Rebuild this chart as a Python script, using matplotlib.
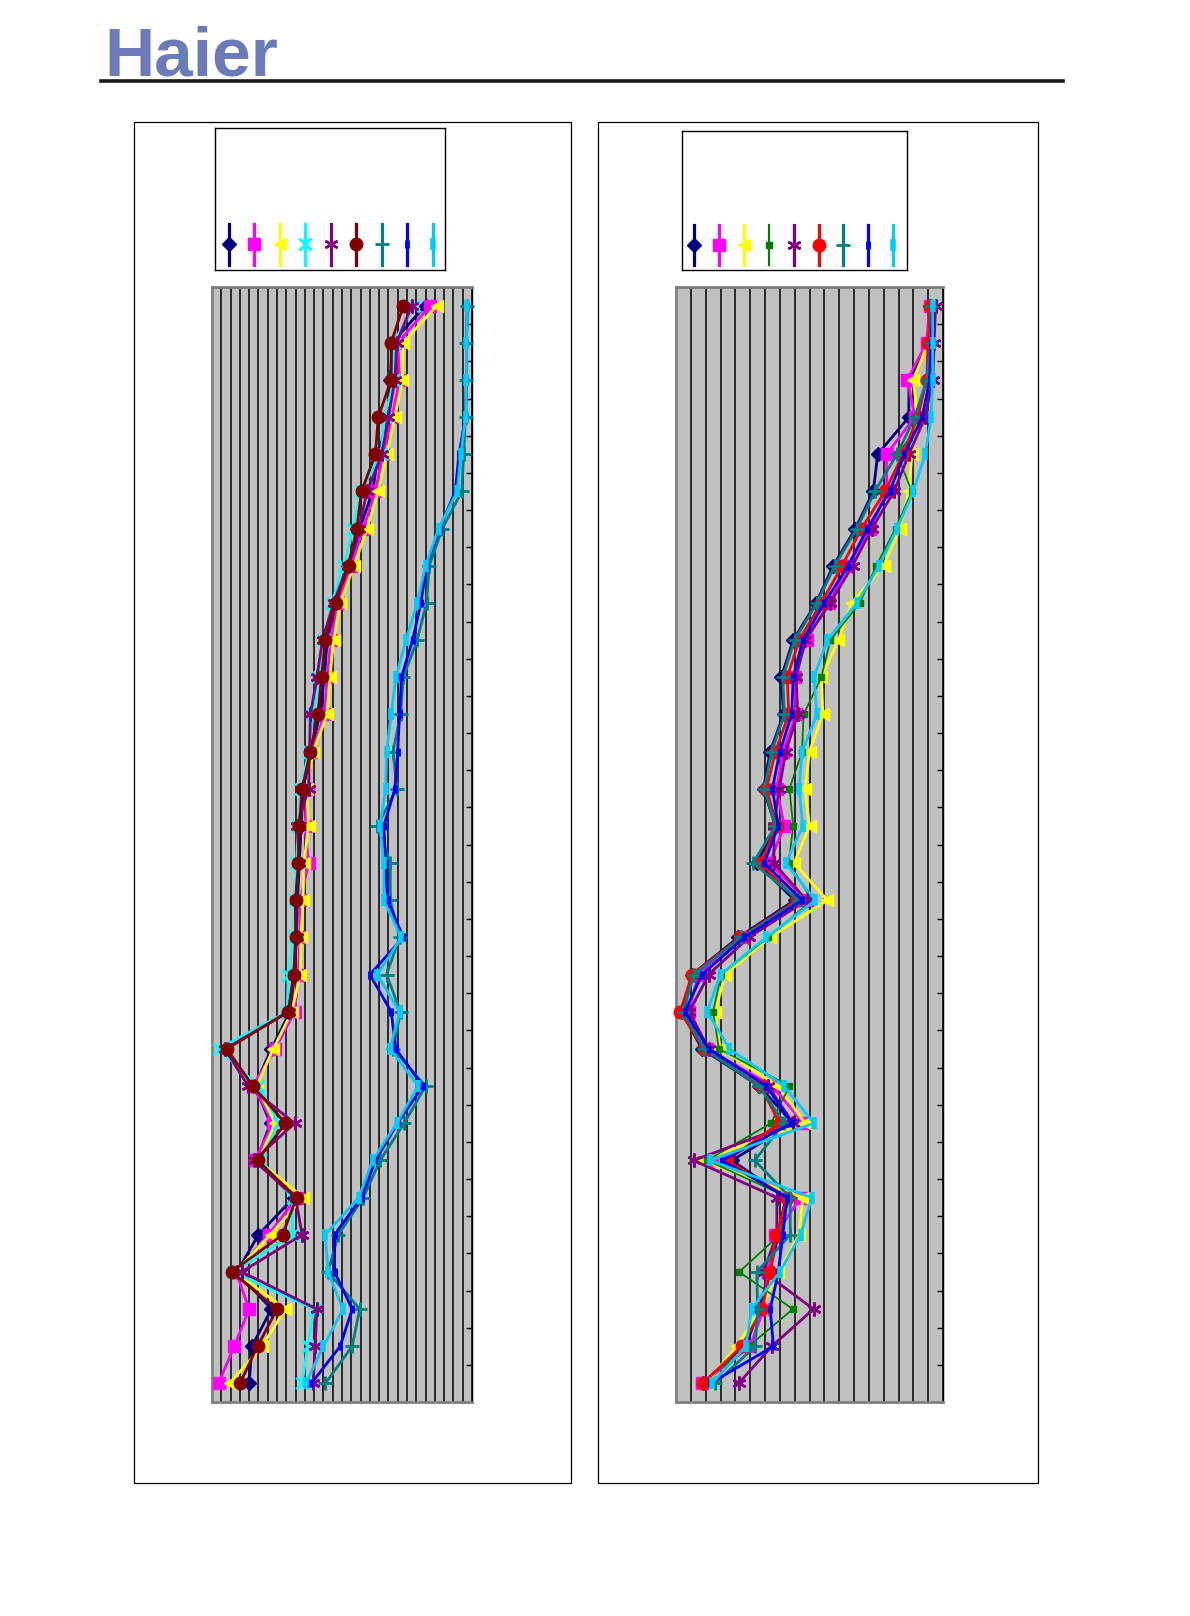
import numpy as np
import matplotlib
matplotlib.use("Agg")
import matplotlib.pyplot as plt
from matplotlib.lines import Line2D
from matplotlib.patches import Rectangle

W, H = 1190, 1616

# 30 rows per panel, listed top to bottom
categories = np.arange(30)

# ---- left panel -------------------------------------------------------
left_navy = [23.0, 19.4, 19.2, 19.0, 17.9, 17.3, 15.9, 14.9, 13.4, 12.4,
             12.1, 11.6, 10.7, 9.8, 9.6, 9.4, 9.2, 9.1, 8.9, 8.4,
             6.4, 4.6, 6.3, 4.8, 8.8, 5.0, 2.7, 6.4, 4.3, 4.0]
left_magenta = [23.5, 20.0, 20.2, 19.4, 18.4, 17.6, 16.3, 15.0, 13.6, 12.8,
                12.4, 12.1, 10.8, 10.3, 10.0, 10.4, 9.5, 9.5, 9.3, 8.9,
                6.8, 4.4, 6.6, 4.6, 9.1, 6.1, 2.6, 4.0, 2.4, 0.7]
left_yellow = [24.2, 20.6, 20.5, 19.7, 18.8, 17.9, 16.7, 15.3, 13.8, 13.1,
               12.7, 12.4, 10.9, 10.2, 10.4, 9.9, 9.8, 9.6, 9.5, 8.6,
               6.6, 4.8, 6.8, 5.0, 9.8, 6.3, 2.5, 7.9, 5.4, 1.9]
left_cyan = [21.7, 19.6, 19.6, 18.6, 18.2, 16.0, 15.2, 14.2, 12.9, 12.1,
             11.5, 10.9, 10.4, 9.6, 9.3, 9.1, 8.9, 8.8, 8.2, 8.1,
             0.7, 5.0, 7.2, 5.2, 8.7, 8.6, 2.3, 11.0, 10.3, 9.7]
left_purple = [21.5, 19.9, 19.7, 19.0, 18.3, 16.7, 15.8, 14.6, 13.1, 11.9,
               11.3, 10.6, 10.5, 10.4, 9.2, 9.4, 9.0, 9.1, 8.8, 8.3,
               1.4, 3.9, 8.9, 4.5, 9.0, 9.7, 3.2, 11.3, 11.1, 10.9]
left_maroon = [20.6, 19.3, 19.3, 17.9, 17.6, 16.1, 15.6, 14.7, 13.3, 12.2,
               11.8, 11.4, 10.6, 9.7, 9.4, 9.3, 9.0, 9.0, 8.8, 8.2,
               1.6, 4.4, 7.9, 4.9, 9.1, 7.6, 2.1, 7.0, 4.9, 3.0]
left_teal = [27.5, 27.4, 27.4, 27.3, 27.1, 26.9, 24.8, 23.4, 23.1, 22.1,
             20.6, 20.3, 19.5, 19.9, 17.8, 19.2, 19.2, 20.2, 18.8, 20.3,
             19.5, 23.0, 20.7, 18.1, 16.3, 13.6, 12.5, 15.9, 15.1, 12.2]
left_blue = [27.5, 27.4, 27.4, 27.3, 26.6, 26.2, 24.5, 23.1, 22.5, 21.6,
             20.4, 20.2, 20.0, 19.7, 18.5, 18.7, 18.9, 20.6, 17.0, 19.3,
             19.8, 22.7, 20.0, 17.6, 16.1, 13.2, 13.2, 15.1, 13.8, 10.7]
left_skyblue = [27.5, 27.4, 27.4, 27.3, 26.8, 26.4, 24.4, 23.0, 22.1, 20.9,
                19.8, 19.3, 18.8, 18.7, 18.1, 18.5, 18.5, 20.4, 17.8, 20.2,
                19.2, 22.2, 19.9, 17.3, 15.8, 12.2, 12.5, 14.1, 12.0, 10.1]

# ---- right panel ------------------------------------------------------
right_navy = [17.1, 17.1, 15.7, 15.7, 13.6, 13.3, 12.1, 10.6, 9.45, 7.9,
              7.1, 7.25, 6.35, 5.9, 6.7, 5.45, 8.0, 4.2, 1.08, 0.4,
              1.75, 5.6, 7.9, 3.77, 7.4, 6.9, 6.3, 5.6, 4.7, 1.8]
right_magenta = [17.1, 16.9, 15.6, 16.1, 14.2, 14.2, 13.1, 11.6, 10.3, 8.8,
                 8.0, 8.1, 7.2, 6.8, 7.3, 6.3, 8.8, 4.6, 1.5, 0.85,
                 2.1, 6.5, 8.6, 2.4, 8.4, 6.7, 6.2, 5.9, 5.0, 1.75]
right_yellow = [17.2, 17.0, 16.0, 16.3, 15.9, 15.7, 15.1, 14.0, 11.85, 10.95,
                9.8, 9.9, 9.0, 8.7, 9.0, 7.97, 10.2, 6.35, 3.3, 2.65,
                2.98, 6.9, 8.7, 1.75, 8.55, 8.3, 6.9, 5.7, 4.1, 2.0]
right_green = [17.2, 17.2, 17.0, 16.9, 14.9, 15.9, 14.8, 13.5, 12.4, 10.4,
               9.8, 8.6, 8.5, 7.65, 7.9, 7.6, 9.2, 6.2, 3.05, 2.5,
               2.9, 7.65, 6.4, 2.1, 7.6, 7.0, 4.26, 7.88, 4.9, 1.68]
right_purple = [17.5, 17.4, 17.3, 16.8, 15.7, 14.7, 13.2, 11.9, 10.4, 8.7,
                8.1, 8.2, 7.4, 6.96, 6.6, 6.6, 8.8, 4.9, 2.2, 0.9,
                2.2, 6.2, 7.9, 1.19, 6.8, 6.8, 5.9, 9.27, 6.46, 4.22]
right_red = [17.1, 17.0, 16.9, 16.3, 15.3, 14.1, 12.5, 11.2, 9.8, 8.3,
             7.5, 7.6, 6.7, 6.1, 6.8, 5.7, 8.15, 4.33, 1.08, 0.29,
             1.86, 5.7, 6.98, 3.43, 7.5, 6.75, 6.35, 5.8, 4.44, 1.8]
right_teal = [17.2, 17.2, 16.9, 16.1, 14.9, 13.4, 12.2, 10.7, 9.5, 8.0,
              7.2, 7.3, 6.45, 5.95, 6.7, 5.2, 8.3, 4.4, 1.2, 0.5,
              1.9, 5.6, 7.3, 5.3, 7.7, 7.7, 5.45, 5.5, 5.34, 2.65]
right_blue = [17.3, 17.2, 17.1, 16.6, 15.4, 14.4, 12.9, 11.6, 10.0, 8.55,
              7.9, 7.8, 7.0, 6.5, 6.9, 5.95, 8.5, 4.6, 1.75, 0.6,
              2.2, 6.1, 7.8, 3.1, 7.5, 7.2, 6.9, 6.35, 6.57, 2.3]
right_skyblue = [17.3, 17.3, 17.3, 17.2, 16.8, 16.0, 14.9, 13.7, 12.2, 10.2,
                 9.3, 9.5, 8.5, 8.3, 8.55, 7.4, 9.4, 6.1, 3.0, 2.1,
                 3.6, 7.3, 9.3, 2.3, 9.16, 8.4, 7.0, 5.1, 4.7, 2.42]

# value-axis extents (one gridline per unit)
LEFT_MAX = 28
RIGHT_MAX = 18

# style per series: colour, marker, marker size, marker edge width, line width
STAR = (6, 2, 0)
left_series = [
    (left_navy, "#000080", "D", 7, 1, 2),
    (left_magenta, "#ff00ff", "s", 8, 1, 2),
    (left_yellow, "#ffff00", "<", 9, 1, 2),
    (left_cyan, "#00ffff", "x", 8, 2.2, 2),
    (left_purple, "#800080", STAR, 10, 1.8, 2),
    (left_maroon, "#800000", "o", 9, 1, 2),
    (left_teal, "#008080", "+", 10, 2, 2),
    (left_blue, "#0000ff", "|", 6, 3.5, 2),
    (left_skyblue, "#00ccff", "|", 8, 4, 2),
]
right_series = [
    (right_navy, "#000080", "D", 7, 1, 2),
    (right_magenta, "#ff00ff", "s", 8, 1, 2),
    (right_yellow, "#ffff00", "<", 9, 1, 2),
    (right_green, "#008000", "s", 5, 1, 1.3),
    (right_purple, "#800080", STAR, 10, 1.8, 2),
    (right_red, "#ff0000", "o", 9, 1, 2),
    (right_teal, "#008080", "+", 10, 2, 2),
    (right_blue, "#0000ff", "|", 6, 3.5, 2),
    (right_skyblue, "#00ccff", "|", 8, 4, 2),
]


def fig_rect(x0, y0, x1, y1):
    """Pixel box (top-left origin) -> figure-fraction [l, b, w, h]."""
    return [x0 / W, 1 - y1 / H, (x1 - x0) / W, (y1 - y0) / H]


def draw_panel(fig, rect, series, vmax):
    ax = fig.add_axes(rect)
    ax.set_facecolor("#c0c0c0")
    for values, color, marker, ms, mew, lw in series:
        ax.plot(values, categories, color=color, lw=lw, marker=marker,
                ms=ms, mew=mew, mfc=color, mec=color, clip_on=False, zorder=3)
    ax.set_xlim(0, vmax)
    ax.set_ylim(len(categories) - 0.5, -0.5)
    ax.set_xticks(np.arange(0, vmax + 1))
    ax.tick_params(axis="x", length=0, labelbottom=False)
    ax.grid(axis="x", color="black", lw=1.1)
    ax.set_axisbelow(True)
    ax.yaxis.tick_right()
    ax.set_yticks(np.arange(0.5, len(categories) - 1, 1))
    ax.tick_params(axis="y", direction="in", length=4, width=1,
                   color="black", labelright=False)
    for side in ("left", "top", "bottom"):
        ax.spines[side].set_color("#808080")
        ax.spines[side].set_linewidth(2)
    ax.spines["right"].set_color("black")
    ax.spines["right"].set_linewidth(1)
    return ax


def draw_legend(fig, rect, series, xpad):
    ax = fig.add_axes(rect)
    for i, (_, color, marker, ms, mew, lw) in enumerate(series):
        ax.plot([i, i], [0.035, 0.325], color=color, lw=lw + 0.3)
        ax.plot([i], [0.18], color=color, marker=marker, ms=ms, mew=mew,
                mfc=color, mec=color)
    ax.set_xlim(-xpad[0], len(series) - 1 + xpad[1])
    ax.set_ylim(0, 1)
    ax.set_xticks([])
    ax.set_yticks([])
    for spine in ax.spines.values():
        spine.set_linewidth(1)
    return ax


fig = plt.figure(figsize=(W / 100, H / 100), dpi=100)

# outer frames
for x0, x1 in ((134, 571), (598, 1038)):
    fig.add_artist(Rectangle((x0 / W, 1 - 1483 / H), (x1 - x0) / W,
                             (1483 - 122) / H, transform=fig.transFigure,
                             fill=False, ec="black", lw=0.9))

draw_legend(fig, fig_rect(215, 128, 445, 270), left_series, (0.54, 0.49))
draw_legend(fig, fig_rect(682, 131, 907, 270), right_series, (0.48, 0.55))

draw_panel(fig, fig_rect(212, 287, 472, 1402), left_series, LEFT_MAX)
draw_panel(fig, fig_rect(676, 287, 943, 1402), right_series, RIGHT_MAX)

# header
fig.text(104 / W, 1 - 76 / H, "Haier", fontsize=50, fontweight="bold",
         family="Liberation Sans", color="#6b7bb8", ha="left", va="baseline")
fig.add_artist(Line2D([101 / W, 1063 / W], [1 - 81 / H] * 2,
                      transform=fig.transFigure, color="#1a1a1a", lw=2.6))

fig.savefig("out.png", dpi=100)
